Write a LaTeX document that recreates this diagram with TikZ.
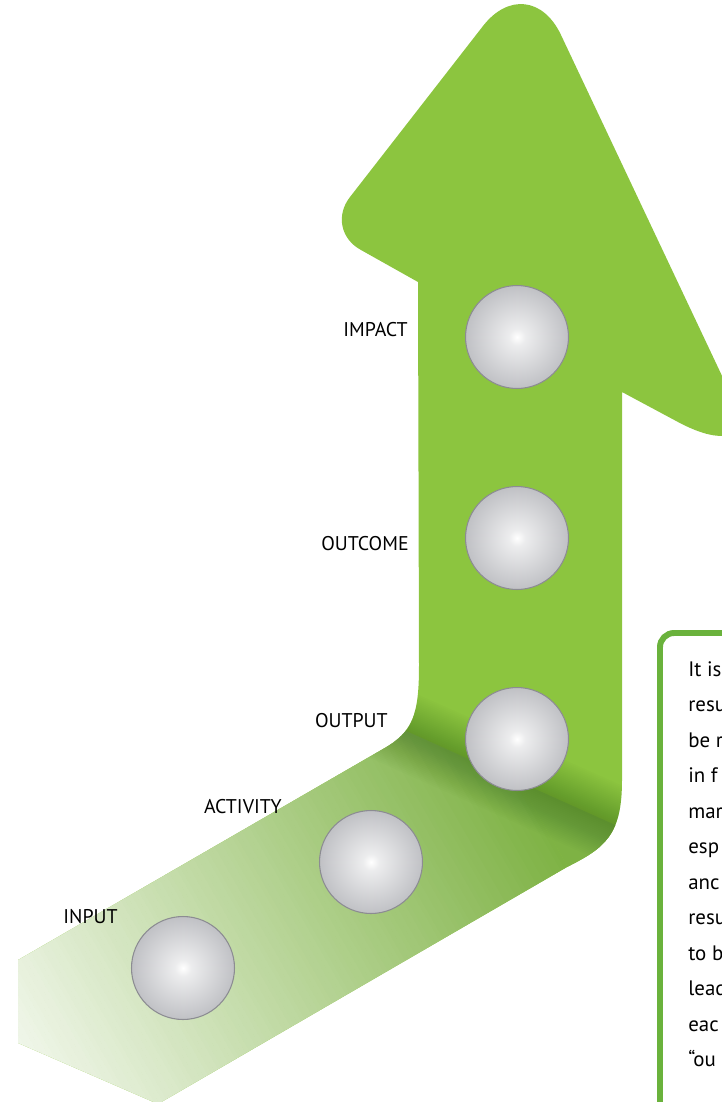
\documentclass[tikz,border=0pt]{standalone}
\usepackage{fontspec}
\setmainfont{PT Sans}
\usepackage{tikz}

\definecolor{arrowgreen}{RGB}{140,197,63}
\definecolor{bandgreen}{RGB}{126,178,68}
\definecolor{creasegreen}{RGB}{60,110,30}
\definecolor{boxgreen}{RGB}{106,178,60}
\definecolor{ballgray}{RGB}{192,193,197}
\definecolor{ballrim}{RGB}{140,140,146}
\pgfdeclareradialshading{ballshade}{\pgfpoint{0bp}{0bp}}{color(0bp)=(white); color(4bp)=(ballgray!30!white); color(25bp)=(ballgray); color(50bp)=(ballgray)}

% outline of the bent arrow, in pixel units
\newcommand{\arrowshape}{(418,282) -- (361,250) .. controls (340.6,239) and (335.7,215.2) .. (350,197)
  -- (483,26) .. controls (508.3,-6.5) and (543.4,-2.4) .. (561,35)
  -- (732,397) .. controls (750.6,436.5) and (726.3,447.8) .. (678,422)
  -- (622,392) -- (622,780) .. controls (622,835) and (605,848) .. (567,867)
  -- (158,1104) -- (18,1043) -- (18,960) -- (383,749) .. controls (413,732) and (419,715) .. (419,665) -- cycle}

\begin{document}
\begin{tikzpicture}[x=0.02cm, y=-0.02cm,
  ball/.style={circle, minimum size=2.06cm, draw=ballrim, line width=0.6pt, shading=ballshade},
  lbl/.style={inner sep=0pt, font=\fontsize{11.3}{13}\selectfont},
  note/.style={inner sep=0pt, font=\fontsize{11.9}{14}\selectfont}]
\useasboundingbox (0,0) rectangle (722,1102);

% arrow
\fill[arrowgreen] \arrowshape;
\begin{scope}
\clip \arrowshape;
\clip (250,661) -- (760,890) -- (760,1200) -- (-50,1200) -- (-50,661) -- cycle;
\begin{scope}[shift={(519,782)}, rotate=210]
\fill[bandgreen] (-200,-200) rectangle (0,200);
\foreach \t in {0,4,...,620} {
  \pgfmathtruncatemacro\p{100-\t/6.4}
  \fill[bandgreen!\p!white] (\t,-200) rectangle (\t+4.5,200);
}
\end{scope}
\end{scope}

% fold shadow
\begin{scope}
\clip \arrowshape;
\foreach \w in {2,4,...,44}
  \draw[creasegreen, line width=\w pt, opacity=0.025] (380,720) -- (640,836);
\end{scope}

% steps
\node[ball] (impact) at (517,337) {};
\node[ball] (outcome) at (517,538) {};
\node[ball] (output) at (517,739) {};
\node[ball] (activity) at (371,862) {};
\node[ball] (input) at (183,968) {};

\node[lbl, anchor=base east] (impactlbl) at (408,336) {IMPACT};
\node[lbl, anchor=base east] (outcomelbl) at (409,550) {OUTCOME};
\node[lbl, anchor=base east] (outputlbl) at (388,727) {OUTPUT};
\node[lbl, anchor=base east] (activitylbl) at (282,813) {ACTIVITY};
\node[lbl, anchor=base east] (inputlbl) at (118,923) {INPUT};

% text box
\draw[boxgreen, line width=3.4pt, rounded corners=8pt] (660,633) rectangle (800,1180);
\foreach \s [count=\i] in {It is, resu, be r, in f, mar, esp, anc, resu, to b, lead, eac, “ou}
  \node[note, anchor=base west] (line\i) at (688,676+35.5*\i-35.5) {\s};
\end{tikzpicture}
\end{document}
